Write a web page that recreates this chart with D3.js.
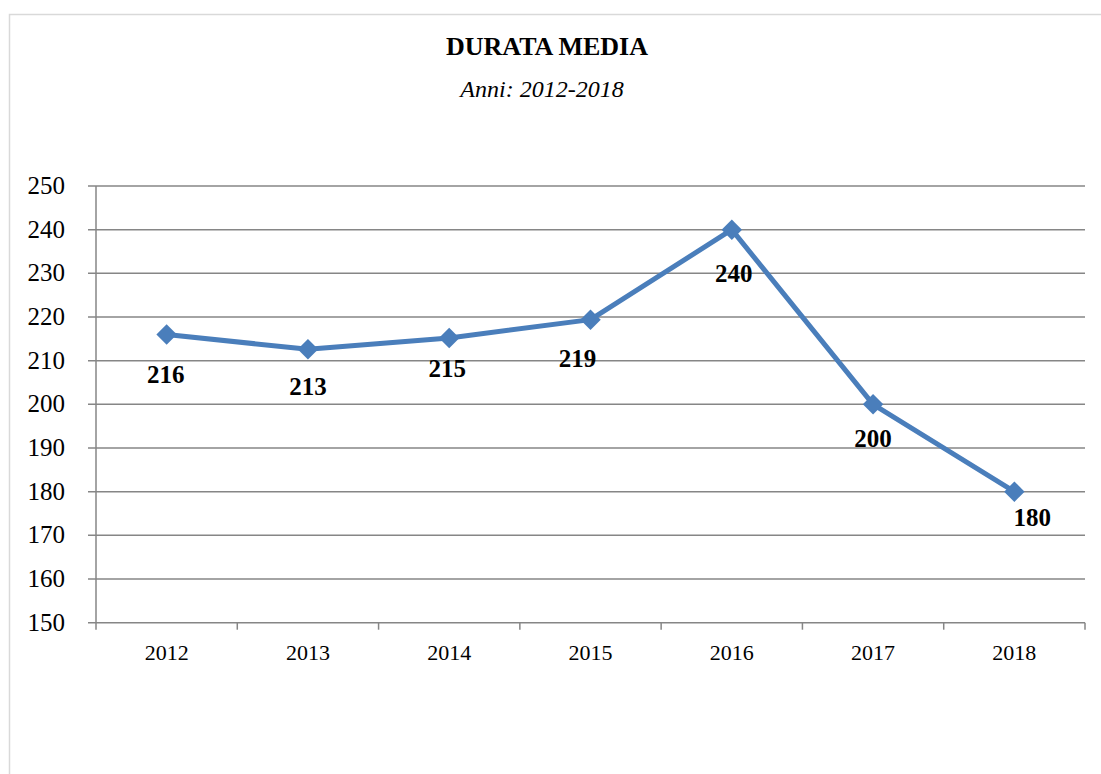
<!DOCTYPE html>
<html>
<head>
<meta charset="utf-8">
<script src="https://cdn.jsdelivr.net/npm/d3@7"></script>
<style>
  html, body { margin: 0; padding: 0; background: #fff; }
  svg { display: block; }
</style>
</head>
<body>
<div id="chart"></div>
<script>
// chart data
const years = ['2012', '2013', '2014', '2015', '2016', '2017', '2018'];
const durata = [216, 212.6, 215.2, 219.4, 240, 200, 180];
const yTicks = [150, 160, 170, 180, 190, 200, 210, 220, 230, 240, 250];
const title = 'DURATA MEDIA';
const subtitle = 'Anni: 2012-2018';

const W = 1101, H = 774;
const serif = '"Liberation Serif", "Times New Roman", serif';
const gridColor = '#868686';
const lineColor = '#4a7ebb';

const svg = d3.select('#chart').append('svg')
    .attr('width', W)
    .attr('height', H);

// outer frame (only left/top edges visible)
svg.append('rect')
    .attr('x', 9.5).attr('y', 14.5)
    .attr('width', W + 20).attr('height', H + 20)
    .attr('fill', 'none')
    .attr('stroke', '#d9d9d9')
    .attr('stroke-width', 1.5);

// titles
svg.append('text')
    .text(title)
    .attr('x', 547).attr('y', 55)
    .attr('text-anchor', 'middle')
    .attr('font-family', serif)
    .attr('font-size', '26px')
    .attr('font-weight', 'bold')
    .attr('fill', '#000');

svg.append('text')
    .text(subtitle)
    .attr('x', 542).attr('y', 97)
    .attr('text-anchor', 'middle')
    .attr('font-family', serif)
    .attr('font-size', '24px')
    .attr('font-style', 'italic')
    .attr('fill', '#000');

// scales
const x = d3.scaleBand().domain(years).range([96, 1085]);
const y = d3.scaleLinear().domain([150, 250]).range([622.7, 186]);
const cx = d => x(d) + x.bandwidth() / 2;

// gridlines
svg.append('g').selectAll('line')
    .data(yTicks)
    .join('line')
    .attr('x1', 88).attr('x2', 1085)
    .attr('y1', d => y(d)).attr('y2', d => y(d))
    .attr('stroke', gridColor)
    .attr('stroke-width', 1.5);

// y axis line
svg.append('line')
    .attr('x1', 96).attr('x2', 96)
    .attr('y1', y(250)).attr('y2', y(150) + 7)
    .attr('stroke', gridColor)
    .attr('stroke-width', 1.5);

// x axis ticks at category boundaries
const bounds = years.map(d => x(d)).concat([x.range()[1]]);
svg.append('g').selectAll('line')
    .data(bounds.slice(1))
    .join('line')
    .attr('x1', d => d).attr('x2', d => d)
    .attr('y1', y(150)).attr('y2', y(150) + 7)
    .attr('stroke', gridColor)
    .attr('stroke-width', 1.5);

// y tick labels
svg.append('g').selectAll('text')
    .data(yTicks)
    .join('text')
    .text(d => d)
    .attr('x', 65)
    .attr('y', d => y(d) + 8)
    .attr('text-anchor', 'end')
    .attr('font-family', serif)
    .attr('font-size', '25px')
    .attr('fill', '#000');

// x tick labels
svg.append('g').selectAll('text')
    .data(years)
    .join('text')
    .text(d => d)
    .attr('x', d => cx(d))
    .attr('y', 660)
    .attr('text-anchor', 'middle')
    .attr('font-family', serif)
    .attr('font-size', '22px')
    .attr('fill', '#000');

// series line
const pts = years.map((d, i) => [cx(d), y(durata[i])]);
svg.append('path')
    .attr('d', d3.line()(pts))
    .attr('fill', 'none')
    .attr('stroke', lineColor)
    .attr('stroke-width', 5)
    .attr('stroke-linejoin', 'round');

// diamond markers
const diamond = d3.symbol().type(d3.symbolSquare).size(210);
svg.append('g').selectAll('path')
    .data(pts)
    .join('path')
    .attr('d', diamond)
    .attr('transform', d => `translate(${d[0]},${d[1]}) rotate(45)`)
    .attr('fill', lineColor);

// data labels (small nudges to mimic placement in the original)
const labelNudge = [[-1, 49], [0, 46], [-2, 39], [-13, 47], [2, 52], [0, 43], [18, 34]];
svg.append('g').selectAll('text')
    .data(durata)
    .join('text')
    .text(d => Math.round(d))
    .attr('x', (d, i) => pts[i][0] + labelNudge[i][0])
    .attr('y', (d, i) => pts[i][1] + labelNudge[i][1])
    .attr('text-anchor', 'middle')
    .attr('font-family', serif)
    .attr('font-size', '25px')
    .attr('font-weight', 'bold')
    .attr('fill', '#000');
</script>
</body>
</html>
